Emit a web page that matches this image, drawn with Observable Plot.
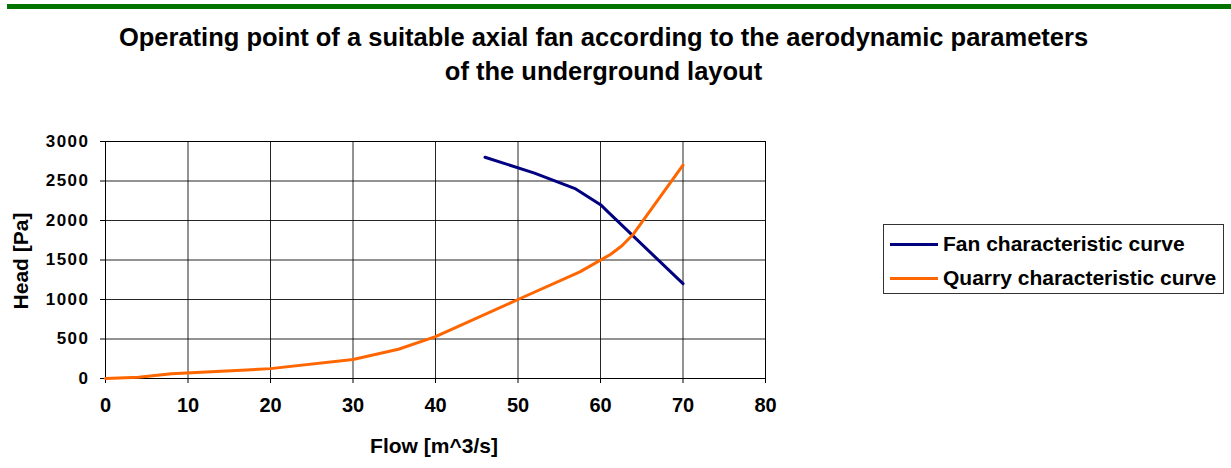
<!DOCTYPE html>
<html>
<head>
<meta charset="utf-8">
<script src="https://cdn.jsdelivr.net/npm/d3@7"></script>
<script src="https://cdn.jsdelivr.net/npm/@observablehq/plot@0.6"></script>
<style>
  html, body { margin: 0; padding: 0; background: #fff; }
  body { width: 1231px; height: 468px; position: relative; overflow: hidden; font-family: "Liberation Sans", Arial, sans-serif; }
  #topbar { position: absolute; left: 7px; top: 4px; width: 1224px; height: 5px; background: #007300; }
  #title { position: absolute; left: 0; top: 20px; width: 1207px; text-align: center; font-weight: bold; font-size: 25.5px; line-height: 34px; color: #000; }
  #chart { position: absolute; left: 0; top: 95px; }
  #legend { position: absolute; left: 883px; top: 224px; width: 339px; height: 68px; border: 1px solid #333; }
  .item { position: absolute; left: 6px; height: 24px; display: flex; align-items: center; font-weight: bold; font-size: 21px; white-space: nowrap; }
  .sw { width: 48px; height: 3px; margin-right: 5px; }
</style>
</head>
<body>
<div id="topbar"></div>
<div id="title">Operating point of a suitable axial fan according to the aerodynamic parameters<br>of the underground layout</div>
<div id="chart"></div>
<div id="legend"></div>
<script>
const seriesNames = ["Fan characteristic curve", "Quarry characteristic curve"];
const seriesColors = ["#000080", "#FF6600"];

const fanFlow = [46, 52, 57, 60, 61, 70];
const fanHead = [2800, 2600, 2400, 2200, 2100, 1200];

const quarryFlow = [0, 4, 8, 20, 30, 35.5, 40, 50, 57.5, 61.2, 62.6, 64, 70];
const quarryHead = [0, 15, 60, 125, 240, 370, 530, 1000, 1350, 1570, 1680, 1830, 2700];

const xTicks = [0, 10, 20, 30, 40, 50, 60, 70, 80];
const yTicks = [0, 500, 1000, 1500, 2000, 2500, 3000];

const xLabel = "Flow [m^3/s]";
const yLabel = "Head [Pa]";

const data = [
  ...fanFlow.map((f, i) => ({series: seriesNames[0], flow: f, head: fanHead[i]})),
  ...quarryFlow.map((f, i) => ({series: seriesNames[1], flow: f, head: quarryHead[i]}))
];

const chart = Plot.plot({
  width: 1231,
  height: 373,
  marginLeft: 105,
  marginRight: 466,
  marginTop: 46,
  marginBottom: 90,
  style: {fontFamily: "Liberation Sans, Arial, sans-serif", fontWeight: "bold", fontSize: "17px", color: "#000", background: "#fff"},
  x: {domain: [0, 80], ticks: xTicks, label: null},
  y: {domain: [0, 3000], ticks: yTicks, label: null},
  color: {domain: seriesNames, range: seriesColors},
  marks: [
    Plot.gridX(xTicks, {stroke: "#000", strokeOpacity: 0.85, strokeWidth: 1}),
    Plot.gridY(yTicks, {stroke: "#000", strokeOpacity: 0.85, strokeWidth: 1}),
    Plot.frame({stroke: "#000", strokeWidth: 1}),
    Plot.axisX(xTicks, {tickSize: 5, tickPadding: 14, tickFormat: d3.format("d"), fontWeight: "bold", fontSize: 20, stroke: "#000"}),
    Plot.axisY(yTicks, {tickSize: 5, tickPadding: 11, tickFormat: d3.format("d"), fontWeight: "bold", fontSize: 17, stroke: "#000"}),
    Plot.line(data, {x: "flow", y: "head", z: "series", stroke: "series", strokeWidth: 3, curve: "linear"}),
  ]
});
document.getElementById("chart").appendChild(chart);

const svg = d3.select(chart);
// letter spacing for y tick labels
svg.selectAll("[aria-label='y-axis tick label'] text").style("letter-spacing", "1.5px");
// axis titles
svg.append("text")
  .attr("transform", "translate(22,166) rotate(-90)")
  .attr("text-anchor", "middle")
  .attr("dominant-baseline", "middle")
  .attr("font-weight", "bold")
  .attr("font-size", 21)
  .attr("fill", "#000")
  .text(yLabel);
svg.append("text")
  .attr("x", 434)
  .attr("y", 352)
  .attr("text-anchor", "middle")
  .attr("dominant-baseline", "middle")
  .attr("font-weight", "bold")
  .attr("font-size", 21)
  .attr("fill", "#000")
  .text(xLabel);

const legend = document.getElementById("legend");
seriesNames.forEach((name, i) => {
  const item = document.createElement("div");
  item.className = "item";
  item.style.top = (i === 0 ? 7 : 41) + "px";
  const sw = document.createElement("div");
  sw.className = "sw";
  sw.style.background = seriesColors[i];
  item.appendChild(sw);
  const t = document.createElement("span");
  t.textContent = name;
  item.appendChild(t);
  legend.appendChild(item);
});
</script>
</body>
</html>
